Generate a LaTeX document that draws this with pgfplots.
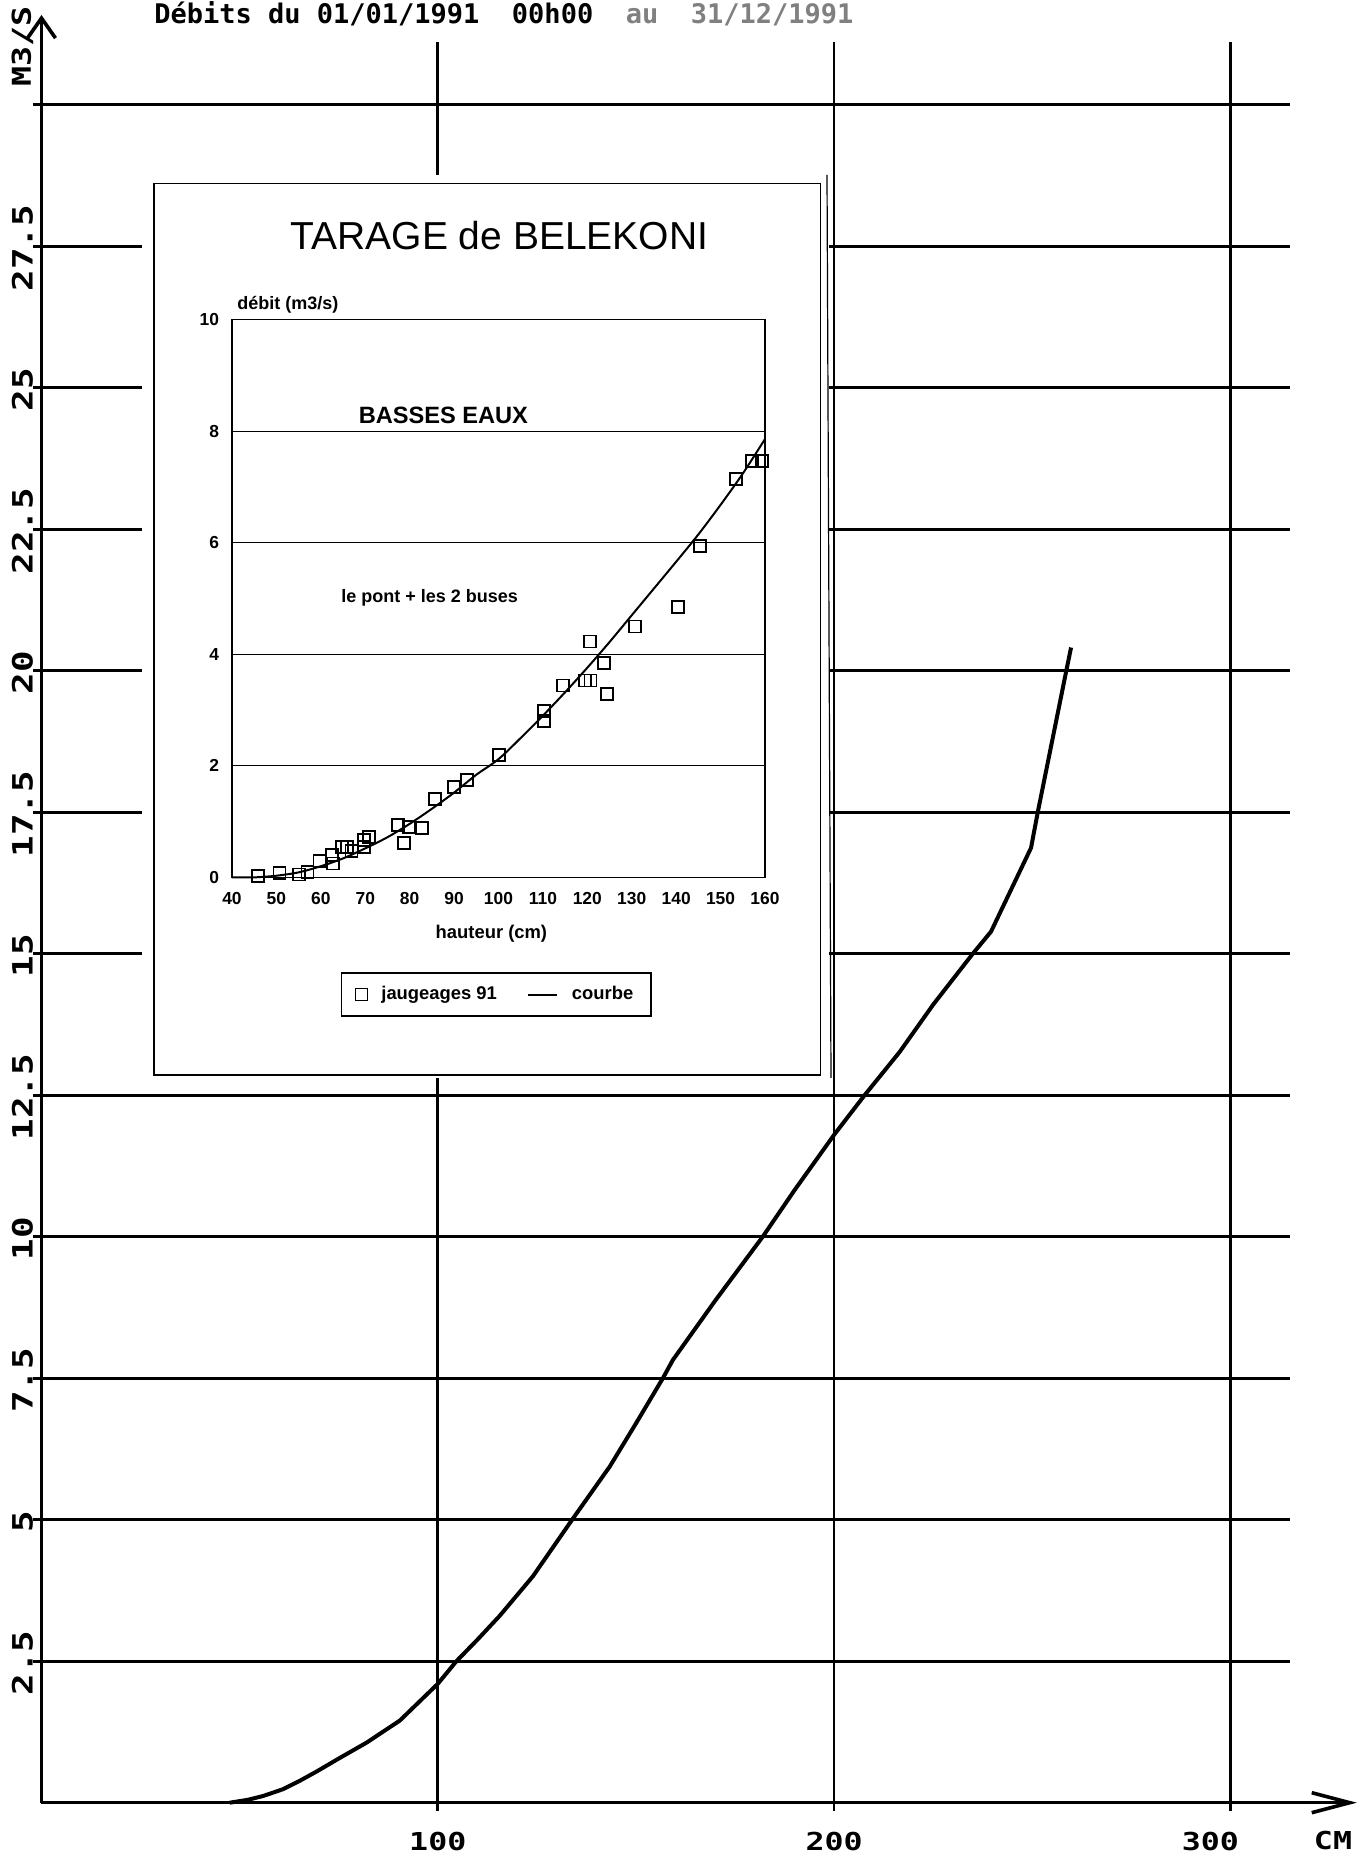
\documentclass[border=0pt]{standalone}
\usepackage{graphicx}
\usepackage{pgfplots}
\pgfplotsset{compat=1.18}
\usepackage{fontspec}
\setmainfont{Liberation Sans}
\newfontfamily\plotter{DejaVu Sans Mono}
\usetikzlibrary{arrows.meta}
\newcommand\pl[2][12.35]{\scalebox{1.28}[1]{\fontsize{#1}{#1}\plotter\bfseries #2}}
\begin{document}
\begin{tikzpicture}
\path[use as bounding box] (-20.75pt,-26.65pt) rectangle (664.25pt,901.35pt);
% header
\node[anchor=base west, inner sep=0pt, font=\fontsize{13.5}{14}\plotter\bfseries] at (56.25pt,889.6pt)
  {Débits du 01/01/1991\ \ 00h00\ \ \textcolor{gray}{au\ \ 31/12/1991}};
\begin{axis}[
  at={(0pt,0pt)}, anchor=south west, scale only axis,
  width=624.15pt, height=880.1pt,
  xmin=0, xmax=315, ymin=0, ymax=31.1,
  axis lines=left,
  axis line style={line width=1.8pt},
  x axis line style={shorten >=-33.5pt, -{Straight Barb[length=19pt,width=10pt]}},
  y axis line style={shorten >=-13.75pt, -{Straight Barb[length=10pt,width=14pt]}},
  xtick={100,200,300},
  xticklabels={\pl{100},\pl{200},{\pl{300}\kern20pt}},
  ytick={2.5,5,...,30},
  yticklabels={\pl[14]{2.5},\pl[14]{5},\pl[14]{7.5},\pl[14]{10},\pl[14]{12.5},\pl[14]{15},\pl[14]{17.5},\pl[14]{20},\pl[14]{22.5},\pl[14]{25},\pl[14]{27.5},{}},
  grid=major,
  major grid style={line width=1.35pt, black},
  tick style={line width=1.35pt, black},
  major tick length=4pt, tick align=outside,
  xticklabel style={anchor=north, inner sep=0pt, yshift=-10.5pt},
  yticklabel style={rotate=90, anchor=south, inner sep=0pt, xshift=-1pt},
  clip=false,
]
\addplot[line width=2pt, black] coordinates {
(47.5,0) (52,0.05) (56,0.12) (61,0.24) (65,0.38) (69.4,0.55) (75,0.78) (82,1.06)
(90.4,1.45) (100,2.1) (104.7,2.5) (110,2.88) (115.6,3.3) (124,4.0) (133.9,5.0)
(143.4,5.94) (150,6.7) (156.8,7.5) (159.3,7.82) (170,8.87) (182,10.0) (190,10.82)
(200,11.8) (207.7,12.5) (216.5,13.26) (225,14.1) (235,15.0) (239.6,15.39)
(249.7,16.87) (251.4,17.5) (258.6,20.0) (259.8,20.41)
};
\end{axis}
% axis unit labels
\node[rotate=90, inner sep=0pt] at (-9.5pt,878pt) {\pl[13]{M3/S}};
\node[inner sep=0pt] at (645.75pt,-19.15pt) {\pl{CM}};
% pasted inset
\fill[white] (50.25pt,362.35pt) rectangle (393.75pt,813.85pt);
\draw[line width=0.6pt] (392.75pt,813.85pt) -- (394.75pt,362.35pt);
\draw[line width=0.9pt] (56.25pt,363.85pt) rectangle (389.5pt,809.6pt);
\node[anchor=base, inner sep=0pt, font=\fontsize{19.5}{20}\selectfont] at (229pt,776.35pt) {TARAGE de BELEKONI};
\begin{axis}[
  at={(95.25pt,462.65pt)}, anchor=south west, scale only axis,
  width=266.5pt, height=278.85pt,
  xmin=40, xmax=160, ymin=0, ymax=10,
  xtick={40,50,...,160}, ytick={0,2,...,10},
  ymajorgrids, major grid style={line width=0.6pt, black},
  axis line style={line width=0.7pt},
  major tick length=0pt,
  /pgf/number format/assume math mode=true,
  tick label style={font=\bfseries\fontsize{8.7}{9}\selectfont},
  xticklabel style={yshift=-4pt},
  yticklabel style={xshift=-3pt},
  clip=false,
  legend columns=2,
  legend style={at={(0.496,-0.21)}, anchor=center, draw=black, line width=0.9pt,
    font=\bfseries\fontsize{9.2}{10}\selectfont, inner xsep=7pt, inner ysep=4.5pt,
    /tikz/every odd column/.append style={column sep=5pt},
    /tikz/every even column/.append style={column sep=13pt}},
]
\addplot[only marks, mark=square, mark size=3pt, mark options={line width=0.9pt, black}] coordinates {
(45.8,0.03) (50.7,0.08) (55,0.05) (57,0.09) (59.7,0.3) (62.6,0.4) (62.8,0.25)
(64.7,0.55) (65.9,0.54) (66.9,0.47) (69.8,0.55) (69.8,0.67) (70.8,0.72)
(77.4,0.94) (78.7,0.61) (79.8,0.9) (82.7,0.88) (85.7,1.40) (89.9,1.62)
(92.9,1.75) (100.1,2.19) (110.3,2.98) (110.3,2.81) (114.6,3.44) (119.5,3.53)
(120.7,3.53) (120.6,4.23) (123.7,3.85) (124.5,3.29) (130.8,4.5) (140.4,4.85)
(145.4,5.94) (153.4,7.14) (157.1,7.47) (159.3,7.47)
};
\addlegendentry{jaugeages 91}
\addplot[line width=1pt, black, smooth, legend image post style={xscale=0.85}] coordinates {
(40,0) (45,0) (50,0.03) (55,0.09) (60,0.2) (65,0.34) (70,0.52) (75,0.72) (80,0.96)
(85,1.23) (90,1.52) (95,1.84) (100,2.12) (105,2.5) (110,2.9) (115,3.32) (120,3.76)
(125,4.22) (130,4.7) (135,5.18) (140,5.66) (145,6.15) (150,6.68) (155,7.24) (160,7.86)
};
\addlegendentry{courbe}
\node[anchor=base west, inner sep=0pt, font=\bfseries\fontsize{9}{9}\selectfont] at (axis description cs:0.0094,1.0174) {débit (m3/s)};
\node[anchor=base, inner sep=0pt, font=\bfseries\fontsize{9.2}{9}\selectfont] at (axis description cs:0.4867,-0.11) {hauteur (cm)};
\node[font=\bfseries\fontsize{11.8}{12}\selectfont] at (axis cs:87.6,8.29) {BASSES EAUX};
\node[font=\bfseries\fontsize{9}{9}\selectfont] at (axis cs:84.5,5.01) {le pont + les 2 buses};
\end{axis}
\end{tikzpicture}
\end{document}
